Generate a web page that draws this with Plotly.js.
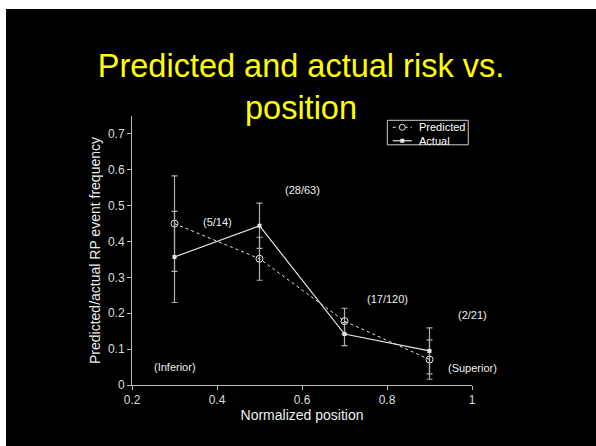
<!DOCTYPE html>
<html>
<head>
<meta charset="utf-8">
<script src="https://cdn.plot.ly/plotly-3.0.1.min.js"></script>
<style>
html,body{margin:0;padding:0;background:#fff;width:596px;height:446px;overflow:hidden;}
#chart{position:absolute;left:6px;top:9px;width:590px;height:437px;}
</style>
</head>
<body>
<div id="chart"></div>
<script>
// Data
var positions = [0.3, 0.5, 0.7, 0.9];
var predicted = [0.450, 0.352, 0.178, 0.071];
var predictedErr = [0.133, 0.060, 0.036, 0.055];
var actual = [0.357, 0.444, 0.142, 0.095];
var actualErr = [0.127, 0.063, 0.032, 0.064];
var countLabels = ["(5/14)", "(28/63)", "(17/120)", "(2/21)"];
var countX = [0.4, 0.6, 0.8, 1.0];
var countY = [0.455, 0.543, 0.240, 0.194];
var endLabels = ["(Inferior)", "(Superior)"];
var endX = [0.3, 1.0];
var endY = [0.049, 0.048];
var xTicks = [0.2, 0.4, 0.6, 0.8, 1];
var xTickText = ["0.2", "0.4", "0.6", "0.8", "1"];
var yTicks = [0, 0.1, 0.2, 0.3, 0.4, 0.5, 0.6, 0.7];
var yTickText = ["0", "0.1", "0.2", "0.3", "0.4", "0.5", "0.6", "0.7"];
var seriesNames = ["Predicted", "Actual"];

var FONT = 'Liberation Sans, Arial, sans-serif';
var LINE = '#e6e6e6';
var ERR = '#b0b0b0';

var traces = [
  {
    name: seriesNames[0], x: positions, y: predicted, type: 'scatter', mode: 'lines+markers',
    line: {color: LINE, width: 1, dash: 'dot'},
    marker: {symbol: 'circle-open', size: 7, color: LINE, line: {width: 1, color: LINE}},
    error_y: {type: 'data', array: predictedErr, visible: true, color: ERR, thickness: 1.2, width: 3}
  },
  {
    name: seriesNames[1], x: positions, y: actual, type: 'scatter', mode: 'lines+markers',
    line: {color: LINE, width: 1.2},
    marker: {symbol: 'square', size: 4, color: LINE},
    error_y: {type: 'data', array: actualErr, visible: true, color: ERR, thickness: 1.2, width: 3}
  }
];

var annotations = [];
for (var i = 0; i < countLabels.length; i++) {
  annotations.push({x: countX[i], y: countY[i], xref: 'x', yref: 'y', text: countLabels[i],
    showarrow: false, font: {family: FONT, size: 11, color: '#eeeeee'}});
}
for (var j = 0; j < endLabels.length; j++) {
  annotations.push({x: endX[j], y: endY[j], xref: 'x', yref: 'y', text: endLabels[j],
    showarrow: false, font: {family: FONT, size: 11, color: '#eeeeee'}});
}

// Compact legend (box, samples, labels) in paper coordinates
var legX0 = 0.751, legX1 = 0.989, legY0 = 0.893, legY1 = 0.984;
var rowY = [0.958, 0.908];
var sampleX0 = 0.767, sampleX1 = 0.823, sampleMid = 0.795, labelX = 0.839;
var shapes = [
  {type: 'rect', xref: 'paper', yref: 'paper', x0: legX0, x1: legX1, y0: legY0, y1: legY1,
   line: {color: '#cccccc', width: 1}, fillcolor: '#000'},
  {type: 'line', xref: 'paper', yref: 'paper', x0: sampleX0, x1: sampleX1, y0: rowY[0], y1: rowY[0],
   line: {color: LINE, width: 1, dash: 'dot'}},
  {type: 'circle', xref: 'paper', yref: 'paper', xsizemode: 'pixel', ysizemode: 'pixel',
   xanchor: sampleMid, yanchor: rowY[0], x0: -3, x1: 3, y0: -3, y1: 3,
   line: {color: LINE, width: 1}, fillcolor: '#000'},
  {type: 'line', xref: 'paper', yref: 'paper', x0: sampleX0, x1: sampleX1, y0: rowY[1], y1: rowY[1],
   line: {color: LINE, width: 1.2}},
  {type: 'rect', xref: 'paper', yref: 'paper', xsizemode: 'pixel', ysizemode: 'pixel',
   xanchor: sampleMid, yanchor: rowY[1], x0: -2, x1: 2, y0: -2, y1: 2,
   line: {color: LINE, width: 0}, fillcolor: LINE}
];
for (var k = 0; k < seriesNames.length; k++) {
  annotations.push({x: labelX, y: rowY[k], xref: 'paper', yref: 'paper', text: seriesNames[k],
    xanchor: 'left', yanchor: 'middle', showarrow: false,
    font: {family: FONT, size: 11, color: '#ffffff'}});
}

var layout = {
  width: 590, height: 437,
  paper_bgcolor: '#000', plot_bgcolor: '#000',
  margin: {l: 126, r: 124, t: 107, b: 61},
  font: {family: FONT, color: '#dddddd'},
  title: {
    text: 'Predicted and actual risk vs.<br>position',
    font: {family: FONT, size: 32.5, color: '#ffff00'},
    x: 0.5, xanchor: 'center', xref: 'container',
    y: 0.845, yanchor: 'top', yref: 'container'
  },
  xaxis: {
    range: [0.2, 1.0], tickvals: xTicks, ticktext: xTickText,
    showgrid: false, zeroline: false, showline: true, linecolor: '#bbbbbb', linewidth: 1,
    ticks: 'outside', ticklen: 4, tickcolor: '#bbbbbb',
    tickfont: {family: FONT, size: 12, color: '#dddddd'},
    title: {text: 'Normalized position', font: {family: FONT, size: 14, color: '#eeeeee'}, standoff: 0}
  },
  yaxis: {
    range: [0, 0.75], tickvals: yTicks, ticktext: yTickText,
    showgrid: false, zeroline: false, showline: true, linecolor: '#bbbbbb', linewidth: 1,
    ticks: 'outside', ticklen: 4, tickcolor: '#bbbbbb',
    tickfont: {family: FONT, size: 12, color: '#dddddd'},
    title: {text: 'Predicted/actual RP event frequency', font: {family: FONT, size: 14, color: '#eeeeee'}, standoff: 4}
  },
  showlegend: false,
  shapes: shapes,
  annotations: annotations
};

Plotly.newPlot('chart', traces, layout, {displayModeBar: false, staticPlot: true});
</script>
</body>
</html>
